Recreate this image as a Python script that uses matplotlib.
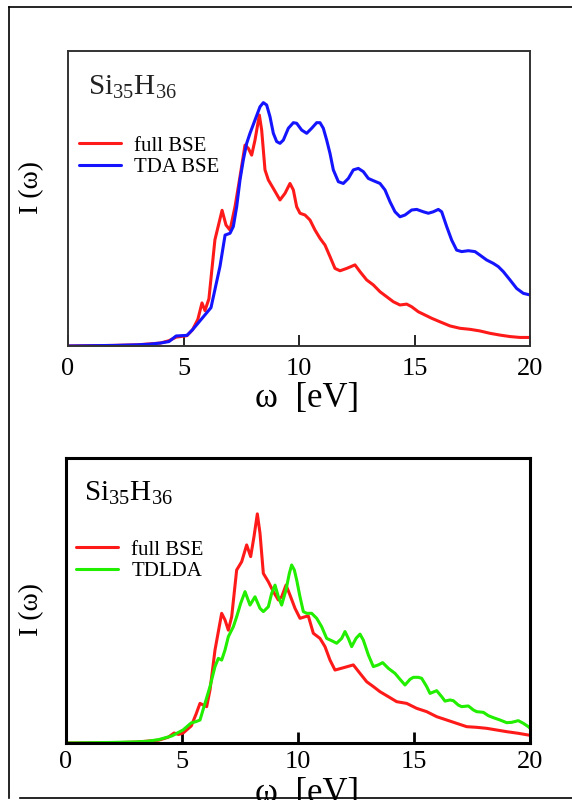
import matplotlib
matplotlib.use("Agg")
import matplotlib.pyplot as plt
from matplotlib.lines import Line2D

plt.rcParams['font.family'] = ['Liberation Serif', 'DejaVu Serif']
plt.rcParams['mathtext.fontset'] = 'custom'
plt.rcParams['mathtext.rm'] = 'Liberation Serif'

# ---------------- data ----------------
xticks = [0, 5, 10, 15, 20]
title_text = r"Si$_{\mathregular{35}}$H$_{\mathregular{36}}$"

# top panel: full BSE (red) and TDA BSE (blue)
top_red_w = [0, 2, 3, 4.0, 4.37, 4.68, 5.15, 5.39, 5.62, 5.8, 5.93, 6.1, 6.36, 6.67, 6.84,
             7.013, 7.229, 7.446, 7.662, 7.807, 7.951, 8.095, 8.283, 8.384, 8.528, 8.672, 8.889,
             9.177, 9.394, 9.61, 9.755, 9.899, 10.043, 10.26, 10.476, 10.693, 10.909, 11.126,
             11.342, 11.558, 11.775, 12.064, 12.424, 12.641, 12.929, 13.218, 13.506, 13.795,
             14.084, 14.372, 14.661, 14.878, 15.166, 15.455, 15.743, 16.104, 16.537, 16.97,
             17.403, 17.835, 18.268, 18.701, 19.134, 19.567, 20.0]
top_red_i = [0, 0.002, 0.004, 0.01, 0.018, 0.03, 0.035, 0.055, 0.09, 0.146, 0.12, 0.16, 0.36, 0.46,
             0.41, 0.393, 0.472, 0.574, 0.681, 0.670, 0.647, 0.698, 0.783, 0.732, 0.597, 0.563,
             0.534, 0.495, 0.5175, 0.551, 0.529, 0.472, 0.45, 0.444, 0.427, 0.393, 0.365, 0.342,
             0.303, 0.263, 0.255, 0.263, 0.275, 0.252, 0.224, 0.207, 0.184, 0.167, 0.150, 0.139,
             0.142, 0.133, 0.116, 0.105, 0.094, 0.082, 0.068, 0.060, 0.0565, 0.051, 0.043, 0.037,
             0.032, 0.029, 0.029]

top_blue_w = [0, 1, 2, 3, 3.5, 4.0, 4.37, 4.68, 5.15, 5.39, 5.87, 6.19, 6.58, 6.8,
              7.013, 7.157, 7.302, 7.446, 7.59, 7.735, 7.879, 8.095, 8.312, 8.456, 8.6, 8.745,
              8.889, 9.033, 9.177, 9.322, 9.538, 9.755, 9.899, 10.116, 10.332, 10.548, 10.765,
              10.909, 11.053, 11.198, 11.342, 11.486, 11.703, 11.919, 12.136, 12.352, 12.568,
              12.785, 13.001, 13.218, 13.506, 13.723, 13.939, 14.156, 14.372, 14.589, 14.878,
              15.094, 15.382, 15.599, 15.815, 16.032, 16.176, 16.393, 16.609, 16.825, 17.042,
              17.33, 17.619, 17.835, 18.124, 18.413, 18.629, 18.846, 19.134, 19.423, 19.711, 20.0]
top_blue_i = [0, 0.001, 0.002, 0.004, 0.006, 0.01, 0.015, 0.034, 0.036, 0.055, 0.10, 0.13, 0.27,
              0.376, 0.382, 0.405, 0.472, 0.563, 0.631, 0.687, 0.721, 0.766, 0.811, 0.825, 0.817,
              0.777, 0.721, 0.693, 0.687, 0.698, 0.738, 0.757, 0.755, 0.732, 0.721, 0.738, 0.757,
              0.757, 0.738, 0.698, 0.653, 0.597, 0.557, 0.551, 0.568, 0.597, 0.602, 0.591, 0.568,
              0.5605, 0.551, 0.529, 0.489, 0.455, 0.438, 0.444, 0.461, 0.463, 0.455, 0.45, 0.455,
              0.463, 0.455, 0.405, 0.359, 0.325, 0.32, 0.323, 0.32, 0.308, 0.2915, 0.280, 0.269,
              0.252, 0.224, 0.195, 0.1785, 0.173]

# bottom panel: full BSE (red) and TDLDA (green)
bot_red_w = [0, 2, 3, 4, 4.4, 4.66, 4.85, 5.05, 5.4, 5.6,
             5.776, 6.063, 6.207, 6.422, 6.710, 6.853, 6.997, 7.141, 7.356, 7.572, 7.787, 7.960,
             8.103, 8.247, 8.362, 8.506, 8.721, 8.937, 9.152, 9.296, 9.483, 9.655, 9.871, 10.086,
             10.302, 10.445, 10.661, 10.948, 11.164, 11.379, 11.595, 11.954, 12.385, 12.672,
             12.960, 13.247, 13.534, 13.894, 14.253, 14.684, 15.115, 15.546, 15.977, 16.408,
             16.839, 17.270, 17.701, 18.132, 18.563, 18.994, 19.497, 19.928, 20]
bot_red_i = [0, 0.001, 0.003, 0.01, 0.02, 0.035, 0.03, 0.035, 0.06, 0.1,
             0.139, 0.1275, 0.186, 0.326, 0.455, 0.432, 0.396, 0.443, 0.607, 0.636, 0.695, 0.654,
             0.724, 0.804, 0.736, 0.595, 0.566, 0.531, 0.502, 0.513, 0.554, 0.519, 0.4725,
             0.4375, 0.443, 0.4456, 0.385, 0.367, 0.338, 0.291, 0.256, 0.264, 0.274, 0.2444,
             0.215, 0.198, 0.180, 0.1626, 0.145, 0.139, 0.1216, 0.110, 0.0924, 0.0807, 0.069,
             0.0573, 0.055, 0.0515, 0.0456, 0.0398, 0.034, 0.028, 0.027]

bot_green_w = [0, 2, 3, 3.5, 4.0, 4.57, 5.05, 5.39, 5.6,
               5.776, 5.991, 6.207, 6.422, 6.566, 6.710, 6.853, 6.997, 7.213, 7.356, 7.529,
               7.716, 7.931, 8.147, 8.362, 8.506, 8.721, 8.865, 9.009, 9.152, 9.296, 9.483,
               9.626, 9.727, 9.842, 9.943, 10.086, 10.230, 10.374, 10.589, 10.805, 11.020,
               11.236, 11.451, 11.667, 11.882, 12.026, 12.170, 12.313, 12.500, 12.672, 12.816,
               13.032, 13.247, 13.463, 13.649, 13.894, 14.181, 14.397, 14.612, 14.828, 14.971,
               15.187, 15.331, 15.546, 15.690, 15.977, 16.193, 16.336, 16.552, 16.695, 16.911,
               17.055, 17.342, 17.557, 17.701, 17.989, 18.204, 18.420, 18.707, 18.994, 19.210,
               19.497, 19.713, 19.928, 20]
bot_green_i = [0, 0.002, 0.004, 0.006, 0.012, 0.025, 0.046, 0.07, 0.075,
               0.0807, 0.139, 0.198, 0.268, 0.297, 0.291, 0.326, 0.373, 0.408, 0.443, 0.490,
               0.531, 0.484, 0.513, 0.4725, 0.461, 0.478, 0.525, 0.554, 0.513, 0.484, 0.537,
               0.595, 0.6246, 0.607, 0.572, 0.513, 0.461, 0.455, 0.455, 0.4375, 0.408, 0.367,
               0.359, 0.350, 0.367, 0.391, 0.367, 0.338, 0.367, 0.382, 0.361, 0.309, 0.268, 0.274,
               0.282, 0.262, 0.2444, 0.2234, 0.2035, 0.2234, 0.2304, 0.2304, 0.227, 0.198, 0.174,
               0.1836, 0.1626, 0.147, 0.151, 0.1485, 0.133, 0.1275, 0.130, 0.116, 0.110, 0.1076,
               0.0959, 0.0889, 0.0807, 0.0713, 0.0725, 0.0784, 0.069, 0.0573, 0.052]

RED = '#ff1a1a'
BLUE = '#1414ff'
GREEN = '#22ee00'

W, H = 572, 800
fig = plt.figure(figsize=(W / 100, H / 100), dpi=100)


def box(l, t, r, b):
    return [l / W, 1 - b / H, (r - l) / W, (b - t) / H]


def style(ax, spine_w, spine_c, tick_w, pad):
    ax.set_xlim(0, 20)
    ax.set_ylim(0, 1)
    ax.set_xticks(xticks)
    ax.set_xticklabels([str(t) for t in xticks])
    ax.set_yticks([])
    ax.tick_params(axis='x', direction='in', length=8, width=tick_w, labelsize=19,
                   pad=pad, colors='black')
    for s in ax.spines.values():
        s.set_linewidth(spine_w)
        s.set_color(spine_c)


line_kw = dict(lw=2.2, solid_joinstyle='round', solid_capstyle='round')

# ---------- top panel ----------
ax1 = fig.add_axes(box(68, 51, 530, 346))
style(ax1, 1.4, '#333333', 1.2, 8.5)
ax1.plot(top_red_w, top_red_i, color=RED, label='full BSE', **line_kw)
ax1.plot(top_blue_w, top_blue_i, color=BLUE, label='TDA BSE', **line_kw)
ax1.text(88 / W, 1 - 94 / H, title_text, transform=fig.transFigure, fontsize=21,
         ha='left', va='baseline', color='#222222')
ax1.legend(loc='upper left', bbox_to_anchor=(79 / W, 1 - 136 / H),
           bbox_transform=fig.transFigure, frameon=False, fontsize=15,
           handlelength=2.0, handletextpad=0.65, labelspacing=0.1, borderpad=0,
           borderaxespad=0)
fig.text(307 / W, 1 - 398 / H, r"ω  [eV]", fontsize=25, ha='center', va='center')
fig.text(32 / W, 1 - 187 / H, r"I (ω)", fontsize=20, ha='center', va='center', rotation=90)

# ---------- bottom panel ----------
ax2 = fig.add_axes(box(66, 458, 530, 743))
style(ax2, 2.2, 'black', 2.0, 6)
ax2.plot(bot_red_w, bot_red_i, color=RED, label='full BSE', **line_kw)
ax2.plot(bot_green_w, bot_green_i, color=GREEN, label='TDLDA', **line_kw)
ax2.text(84 / W, 1 - 500 / H, title_text, transform=fig.transFigure, fontsize=21,
         ha='left', va='baseline', color='black')
ax2.legend(loc='upper left', bbox_to_anchor=(76 / W, 1 - 540 / H),
           bbox_transform=fig.transFigure, frameon=False, fontsize=15,
           handlelength=2.0, handletextpad=0.65, labelspacing=0.1, borderpad=0,
           borderaxespad=0)
fig.text(307 / W, 1 - 777 / H, r"ω  [eV]", fontsize=25, ha='center', va='top')
fig.text(32 / W, 1 - 610 / H, r"I (ω)", fontsize=20, ha='center', va='center', rotation=90)

# ---------- outer frame ----------
fx = lambda x: x / W
fy = lambda y: 1 - y / H
fig.add_artist(Line2D([fx(9), fx(9)], [fy(7), fy(798)], color='black', lw=1.2))
fig.add_artist(Line2D([fx(9), fx(572)], [fy(7), fy(7)], color='black', lw=1.2))
fig.add_artist(Line2D([fx(20), fx(572)], [fy(798), fy(798)], color='black', lw=1.2))

fig.savefig('out.png', dpi=100)
